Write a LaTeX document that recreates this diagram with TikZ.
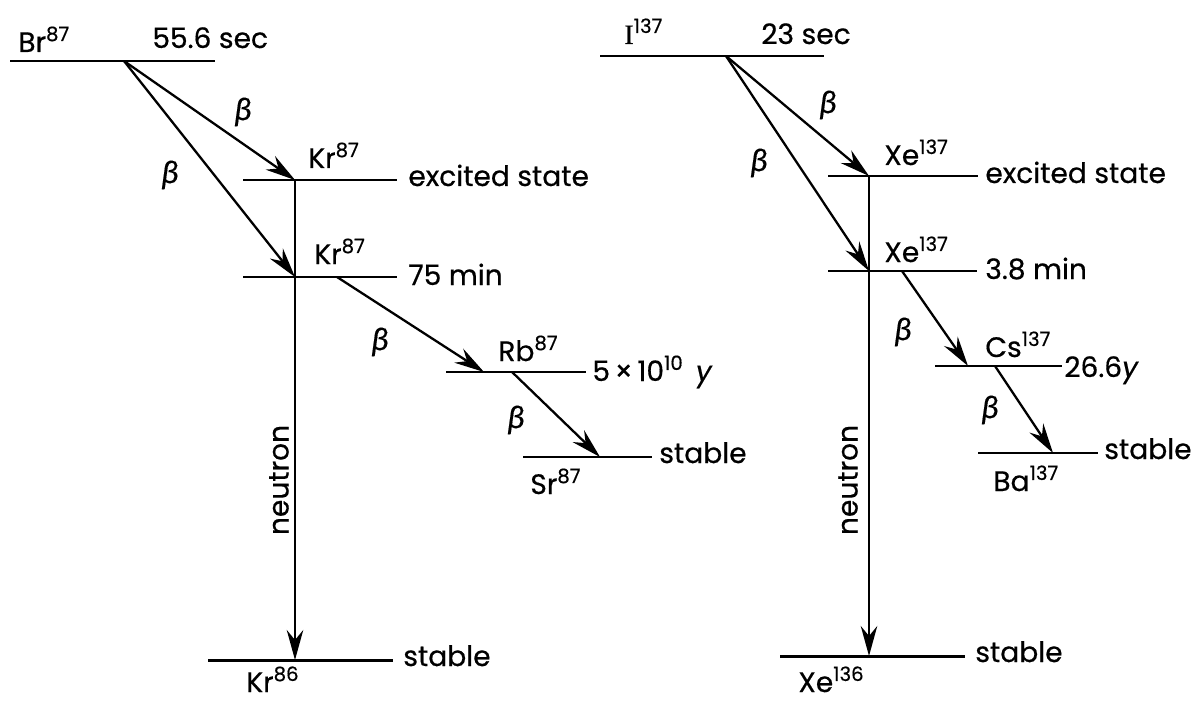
\documentclass[tikz,border=0pt]{standalone}
\usepackage{fontspec}
\setmainfont{Poppins}[FakeBold=0.5]
\newfontfamily\greekfont{Fira Sans}[FakeBold=0.3]
\newfontfamily\romanfont{Liberation Serif}[FakeBold=0.5]
\usetikzlibrary{arrows.meta}

\begin{document}
\begin{tikzpicture}[
    x=0.02cm, y=-0.02cm,
    level/.style={line width=1.7pt},
    decay/.style={-{Stealth[length=6mm, width=3.3mm, inset=2mm]}, line width=1.3pt},
    txt/.style={font=\fontsize{16}{18}\selectfont, inner sep=0pt, anchor=base west},
    beta/.style={font=\fontsize{17}{19}\selectfont\greekfont\itshape, inner sep=0pt}
]
\useasboundingbox (0,0) rectangle (1195,702);

% Br-87 chain
\coordinate (br) at (124,61);
\coordinate (krx) at (295,180);
\coordinate (krm) at (295,277);
\coordinate (krmout) at (337,277);
\coordinate (rb) at (484,372);
\coordinate (rbout) at (512,372);
\coordinate (sr) at (600,457);
\coordinate (kr86) at (295,660);

\draw[level] (10,61) -- (215,61);
\draw[level] (243,180) -- (397,180);
\draw[level] (243,277) -- (397,277);
\draw[level] (446,372) -- (586,372);
\draw[level] (523,457) -- (652,457);
\draw[level] (208,660) -- (393,660);

\draw[decay] (br) -- (krx);
\draw[decay] (br) -- (krm);
\draw[decay] (krx) -- (kr86);
\draw[decay] (krmout) -- (rb);
\draw[decay] (rbout) -- (sr);

\node[txt] (brlab) at (18,52) {Br\textsuperscript{87}};
\node[txt] (brhalf) at (152,48) {55.6 sec};
\node[txt] (krxlab) at (308,168) {Kr\textsuperscript{87}};
\node[txt] (krxstate) at (408,186) {excited state};
\node[txt] (krmlab) at (314,264) {Kr\textsuperscript{87}};
\node[txt] (krmhalf) at (408,285) {75 min};
\node[txt] (rblab) at (498,361) {Rb\textsuperscript{87}};
\node[txt] (rbhalf) at (592,381) {5\,×\,10\textsuperscript{10}\, \textit{y}};
\node[txt] (srstate) at (659,463) {stable};
\node[txt] (srlab) at (530,494) {Sr\textsuperscript{87}};
\node[txt] (kr86state) at (403,666) {stable};
\node[txt] (kr86lab) at (246,692) {Kr\textsuperscript{86}};
\node[txt, rotate=90, anchor=center] (krneutron) at (279,480) {neutron};

\node[beta] (b1) at (243,112) {β};
\node[beta] (b2) at (170,175) {β};
\node[beta] (b3) at (380,342) {β};
\node[beta] (b4) at (516,420) {β};

% I-137 chain
\coordinate (io) at (726,56);
\coordinate (xex) at (869,176);
\coordinate (xem) at (869,271);
\coordinate (xemout) at (902,271);
\coordinate (cs) at (968,366);
\coordinate (csout) at (995,366);
\coordinate (ba) at (1053,453);
\coordinate (xe136) at (869,656);

\draw[level] (600,56) -- (824,56);
\draw[level] (828,176) -- (978,176);
\draw[level] (828,271) -- (977,271);
\draw[level] (935,366) -- (1062,366);
\draw[level] (978,453) -- (1098,453);
\draw[level] (780,656) -- (965,656);

\draw[decay] (io) -- (xex);
\draw[decay] (io) -- (xem);
\draw[decay] (xex) -- (xe136);
\draw[decay] (xemout) -- (cs);
\draw[decay] (csout) -- (ba);

\node[txt] (ilab) at (624,44) {{\romanfont I}\textsuperscript{137}};
\node[txt] (ihalf) at (761,44) {23 sec};
\node[txt] (xexlab) at (884,165) {Xe\textsuperscript{137}};
\node[txt] (xexstate) at (985,183) {excited state};
\node[txt] (xemlab) at (884,262) {Xe\textsuperscript{137}};
\node[txt] (xemhalf) at (985,279) {3.8 min};
\node[txt] (cslab) at (985,357) {Cs\textsuperscript{137}};
\node[txt] (cshalf) at (1064,377) {26.6\textit{y}};
\node[txt] (bastate) at (1104,459) {stable};
\node[txt] (balab) at (993,491) {Ba\textsuperscript{137}};
\node[txt] (xe136state) at (975,662) {stable};
\node[txt] (xe136lab) at (798,692) {Xe\textsuperscript{136}};
\node[txt, rotate=90, anchor=center] (xeneutron) at (848,480) {neutron};

\node[beta] (b5) at (828,105) {β};
\node[beta] (b6) at (759,163) {β};
\node[beta] (b7) at (903,332) {β};
\node[beta] (b8) at (990,410) {β};

\end{tikzpicture}
\end{document}
